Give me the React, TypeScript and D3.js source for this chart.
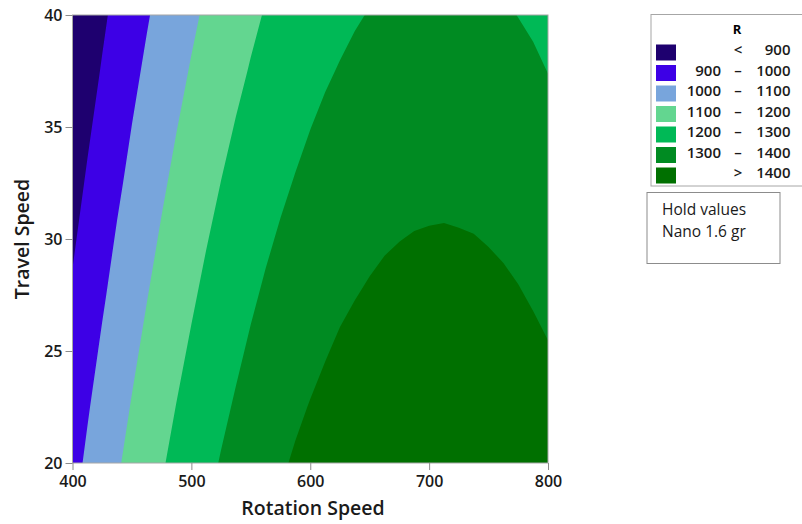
import React from 'react';
import * as d3 from 'd3';

// grid the contour values are read on
const rotationSpeed = [
  400, 412.5, 425, 437.5, 450, 462.5, 475, 487.5, 500, 512.5, 525, 537.5, 550, 562.5, 575, 587.5, 600,
  612.5, 625, 637.5, 650, 662.5, 675, 687.5, 700, 712.5, 725, 737.5, 750, 762.5, 775, 787.5, 800,
];
const travelSpeed = [20, 22.5, 25, 27.5, 30, 32.5, 35, 37.5, 40];

// R, one row per travel speed (20 -> 40), one column per rotation speed
const rAt20 = [973, 1013, 1053, 1090, 1126, 1160, 1192, 1223, 1252, 1279, 1305, 1329, 1352, 1372, 1391, 1408, 1424, 1438, 1450, 1461, 1470, 1477, 1483, 1486, 1489, 1489, 1488, 1485, 1481, 1474, 1466, 1457, 1446];
const rAt22 = [952, 993, 1032, 1069, 1105, 1139, 1171, 1202, 1231, 1259, 1284, 1308, 1331, 1351, 1370, 1388, 1403, 1417, 1429, 1440, 1449, 1456, 1462, 1466, 1468, 1468, 1467, 1464, 1460, 1453, 1446, 1436, 1425];
const rAt25 = [931, 972, 1011, 1048, 1084, 1118, 1151, 1181, 1210, 1238, 1263, 1287, 1310, 1330, 1349, 1367, 1382, 1396, 1409, 1419, 1428, 1435, 1441, 1445, 1447, 1447, 1446, 1443, 1439, 1433, 1425, 1415, 1404];
const rAt27 = [910, 951, 990, 1027, 1063, 1097, 1130, 1160, 1189, 1217, 1243, 1267, 1289, 1310, 1329, 1346, 1361, 1375, 1388, 1398, 1407, 1414, 1420, 1424, 1426, 1426, 1425, 1422, 1418, 1412, 1404, 1394, 1383];
const rAt30 = [889, 930, 969, 1007, 1042, 1076, 1109, 1140, 1169, 1196, 1222, 1246, 1268, 1289, 1308, 1325, 1341, 1355, 1367, 1377, 1386, 1394, 1399, 1403, 1405, 1406, 1404, 1402, 1397, 1391, 1383, 1373, 1362];
const rAt32 = [868, 909, 948, 986, 1021, 1056, 1088, 1119, 1148, 1175, 1201, 1225, 1247, 1268, 1287, 1304, 1320, 1334, 1346, 1357, 1365, 1373, 1378, 1382, 1384, 1385, 1384, 1381, 1376, 1370, 1362, 1352, 1341];
const rAt35 = [847, 888, 927, 965, 1001, 1035, 1067, 1098, 1127, 1154, 1180, 1204, 1226, 1247, 1266, 1283, 1299, 1313, 1325, 1336, 1345, 1352, 1357, 1361, 1363, 1364, 1363, 1360, 1355, 1349, 1341, 1332, 1320];
const rAt37 = [826, 867, 906, 944, 980, 1014, 1046, 1077, 1106, 1133, 1159, 1183, 1205, 1226, 1245, 1262, 1278, 1292, 1304, 1315, 1324, 1331, 1336, 1340, 1342, 1343, 1342, 1339, 1334, 1328, 1320, 1311, 1299];
const rAt40 = [806, 846, 886, 923, 959, 993, 1025, 1056, 1085, 1112, 1138, 1162, 1185, 1205, 1224, 1241, 1257, 1271, 1283, 1294, 1303, 1310, 1316, 1319, 1322, 1322, 1321, 1318, 1314, 1307, 1299, 1290, 1279];
const rRows = [rAt20, rAt22, rAt25, rAt27, rAt30, rAt32, rAt35, rAt37, rAt40];

const levels = [900, 1000, 1100, 1200, 1300, 1400];
const bandColors = ['#1e006f', '#3d00e6', '#78a5dc', '#63d690', '#00b956', '#008b22', '#007000'];
const legendRows = [
  ['', '<', '900'],
  ['900', '–', '1000'],
  ['1000', '–', '1100'],
  ['1100', '–', '1200'],
  ['1200', '–', '1300'],
  ['1300', '–', '1400'],
  ['', '>', '1400'],
];
const holdLines = ['Hold values', 'Nano 1.6 gr'];
const xTicks = [400, 500, 600, 700, 800];
const yTicks = [20, 25, 30, 35, 40];

const App = () => {
  const svgRef = React.useRef<SVGSVGElement>(null);

  React.useEffect(() => {
    const svg = d3.select(svgRef.current);
    svg.selectAll('*').remove();

    const left = 72.5;
    const right = 548;
    const top = 15;
    const bottom = 463;
    const x = d3.scaleLinear().domain([400, 800]).range([left, right]);
    const y = d3.scaleLinear().domain([20, 40]).range([bottom, top]);

    const nx = rotationSpeed.length;
    const ny = travelSpeed.length;
    // d3.contours puts value i at i + 0.5
    const gx = d3.scaleLinear().domain([0.5, nx - 0.5]).range([rotationSpeed[0], rotationSpeed[nx - 1]]);
    const gy = d3.scaleLinear().domain([0.5, ny - 0.5]).range([travelSpeed[0], travelSpeed[ny - 1]]);
    const path = d3.geoPath(
      d3.geoTransform({
        point(px, py) {
          this.stream.point(x(gx(px)), y(gy(py)));
        },
      })
    );
    const contours = d3.contours().size([nx, ny]).thresholds(levels)(rRows.flat());

    svg
      .append('clipPath')
      .attr('id', 'plotClip')
      .append('rect')
      .attr('x', left)
      .attr('y', top)
      .attr('width', right - left)
      .attr('height', bottom - top);

    const plot = svg.append('g').attr('clip-path', 'url(#plotClip)');
    plot
      .append('rect')
      .attr('x', left)
      .attr('y', top)
      .attr('width', right - left)
      .attr('height', bottom - top)
      .attr('fill', bandColors[0]);
    plot
      .selectAll('path')
      .data(contours)
      .join('path')
      .attr('d', (d) => path(d))
      .attr('fill', (d, i) => bandColors[i + 1]);

    svg
      .append('rect')
      .attr('x', left)
      .attr('y', top)
      .attr('width', right - left)
      .attr('height', bottom - top)
      .attr('fill', 'none')
      .attr('stroke', '#a6a6a6');

    const xAxis = svg
      .append('g')
      .attr('transform', `translate(0,${bottom})`)
      .call(d3.axisBottom(x).tickValues(xTicks).tickSize(7).tickPadding(6));
    const yAxis = svg
      .append('g')
      .attr('transform', `translate(${left},0)`)
      .call(d3.axisLeft(y).tickValues(yTicks).tickSize(7).tickPadding(3));
    [xAxis, yAxis].forEach((g) => {
      g.select('.domain').remove();
      g.selectAll('line').attr('stroke', '#8c8c8c');
      g.selectAll('text')
        .attr('fill', '#1a1a1a')
        .style('font-family', '"Open Sans", sans-serif')
        .style('font-size', '16px')
        .style('font-weight', 600);
    });

    svg
      .append('text')
      .attr('x', 313)
      .attr('y', 515)
      .attr('text-anchor', 'middle')
      .attr('fill', '#1a1a1a')
      .style('font-size', '19.5px')
      .style('font-weight', 600)
      .text('Rotation Speed');
    svg
      .append('text')
      .attr('transform', 'translate(29,239) rotate(-90)')
      .attr('text-anchor', 'middle')
      .attr('fill', '#1a1a1a')
      .style('font-size', '19.5px')
      .style('font-weight', 600)
      .text('Travel Speed');

    // legend
    const legend = svg.append('g');
    legend
      .append('rect')
      .attr('x', 651)
      .attr('y', 14.5)
      .attr('width', 160)
      .attr('height', 171.5)
      .attr('fill', 'white')
      .attr('stroke', '#a6a6a6');
    legend
      .append('text')
      .attr('x', 737)
      .attr('y', 34)
      .attr('text-anchor', 'middle')
      .style('font-size', '13px')
      .style('font-weight', 700)
      .text('R');
    const rows = legend
      .selectAll('g.row')
      .data(legendRows)
      .join('g')
      .attr('class', 'row')
      .attr('transform', (d, i) => `translate(0,${55 + i * 20.5})`);
    rows
      .append('rect')
      .attr('x', 656)
      .attr('y', -10.5)
      .attr('width', 20)
      .attr('height', 16)
      .attr('fill', (d, i) => bandColors[i]);
    rows
      .append('text')
      .attr('x', 721)
      .attr('text-anchor', 'end')
      .text((d) => d[0]);
    rows
      .append('text')
      .attr('x', 738)
      .attr('text-anchor', 'middle')
      .text((d) => d[1]);
    rows
      .append('text')
      .attr('x', 790.5)
      .attr('text-anchor', 'end')
      .text((d) => d[2]);
    rows.selectAll('text').attr('fill', '#1a1a1a').style('font-size', '15px').style('font-weight', 600);

    const hold = svg.append('g');
    hold
      .append('rect')
      .attr('x', 647)
      .attr('y', 192.5)
      .attr('width', 133)
      .attr('height', 71)
      .attr('fill', 'white')
      .attr('stroke', '#8c8c8c');
    hold
      .selectAll('text')
      .data(holdLines)
      .join('text')
      .attr('x', 662)
      .attr('y', (d, i) => 215 + i * 22)
      .attr('fill', '#1a1a1a')
      .style('font-size', '15.5px')
      .text((d) => d);
  }, []);

  return (
    <svg
      ref={svgRef}
      width={802}
      height={524}
      style={{ position: 'absolute', left: 0, top: 0, background: 'white', fontFamily: '"Open Sans", sans-serif' }}
    ></svg>
  );
};

export default App;
